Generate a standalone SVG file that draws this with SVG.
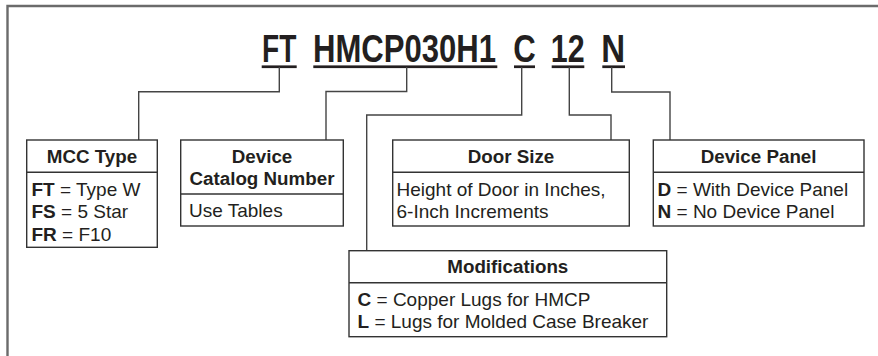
<svg xmlns="http://www.w3.org/2000/svg" width="878" height="356" viewBox="0 0 878 356">
<style>
text{font-family:"Liberation Sans",Arial,sans-serif;fill:#231f20}
.code{font-weight:bold;font-size:38px}
.h{font-weight:bold;font-size:18.8px;text-anchor:middle}
.b{font-size:19px}
.b tspan.k{font-weight:bold}
.box{fill:#fff;stroke:#333;stroke-width:1.4}
.div{stroke:#333;stroke-width:1.4}
.ul{fill:#231f20}
.con path{fill:none;stroke:#444;stroke-width:1.4}
</style>
<rect width="878" height="356" fill="#fff"/>
<path d="M7.5 356 V6 H878" fill="none" stroke="#6b6b6b" stroke-width="2.4"/>
<g id="code">
<text class="code" transform="translate(262 61.7) scale(0.74 1)">FT</text>
<text class="code" transform="translate(313 61.7) scale(0.818 1)">HMCP030H1</text>
<text class="code" transform="translate(513.2 61.7) scale(0.82 1)">C</text>
<text class="code" transform="translate(550.8 61.7) scale(0.8 1)">12</text>
<text class="code" transform="translate(601.2 61.7) scale(0.87 1)">N</text>
<rect class="ul" x="261.7" y="65.4" width="35" height="2.7"/>
<rect class="ul" x="313.3" y="65.4" width="184" height="2.7"/>
<rect class="ul" x="514" y="65.4" width="21" height="2.7"/>
<rect class="ul" x="551.7" y="65.4" width="32.6" height="2.7"/>
<rect class="ul" x="602.3" y="65.4" width="22.7" height="2.7"/>
</g>
<g id="connectors" class="con">
<path d="M279.3 67 V91.7 H138.7 V140"/>
<path d="M406.7 67 V91.5 H326 V140"/>
<path d="M521.7 67 V115 H366.7 V250.7"/>
<path d="M569.3 67 V115 H611 V140"/>
<path d="M611.7 67 V92 H670 V140"/>
</g>
<g id="mcc-type">
<rect class="box" x="26.7" y="140" width="130.6" height="107.3"/>
<line class="div" x1="26.7" y1="172.3" x2="157.3" y2="172.3"/>
<text class="h" x="92" y="162.6">MCC Type</text>
<text class="b" x="31.5" y="195.7"><tspan class="k">FT</tspan> = Type W</text>
<text class="b" x="31.5" y="218.3"><tspan class="k">FS</tspan> = 5 Star</text>
<text class="b" x="31.5" y="240.9"><tspan class="k">FR</tspan> = F10</text>
</g>
<g id="device-catalog-number">
<rect class="box" x="180.7" y="140" width="162.6" height="86"/>
<line class="div" x1="180.7" y1="194" x2="343.3" y2="194"/>
<text class="h" x="262" y="162.6">Device</text>
<text class="h" x="262" y="185.2">Catalog Number</text>
<text class="b" x="189" y="217.4">Use Tables</text>
</g>
<g id="door-size">
<rect class="box" x="392.7" y="140" width="236.6" height="86"/>
<line class="div" x1="392.7" y1="172.3" x2="629.3" y2="172.3"/>
<text class="h" x="511" y="162.6">Door Size</text>
<text class="b" x="396.5" y="195.7">Height of Door in Inches,</text>
<text class="b" x="396.5" y="218.3">6-Inch Increments</text>
</g>
<g id="device-panel">
<rect class="box" x="653.3" y="140" width="210.7" height="86"/>
<line class="div" x1="653.3" y1="172.3" x2="864" y2="172.3"/>
<text class="h" x="758.6" y="162.6">Device Panel</text>
<text class="b" x="657.5" y="195.7"><tspan class="k">D</tspan> = With Device Panel</text>
<text class="b" x="657.5" y="218.3"><tspan class="k">N</tspan> = No Device Panel</text>
</g>
<g id="modifications">
<rect class="box" x="349" y="250.7" width="317.7" height="86"/>
<line class="div" x1="349" y1="282.7" x2="666.7" y2="282.7"/>
<text class="h" x="507.8" y="273.3">Modifications</text>
<text class="b" x="357.5" y="305.7"><tspan class="k">C</tspan> = Copper Lugs for HMCP</text>
<text class="b" x="357.5" y="328.3"><tspan class="k">L</tspan> = Lugs for Molded Case Breaker</text>
</g>
</svg>
